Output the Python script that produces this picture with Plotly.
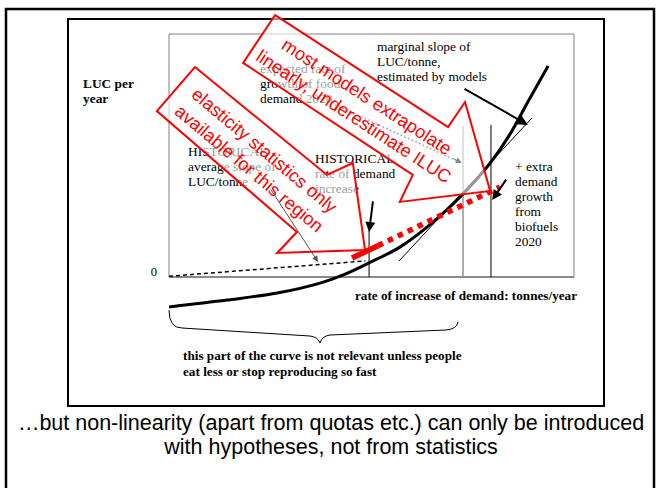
import plotly.graph_objects as go

# ---------------- data (chart units: demand 0..100 along x, LUC 0..100 along y) ----------------
curve_x = [0, 14.3, 26.7, 37.3, 43.5, 49.4, 57.0, 65.2, 72.6, 79.3, 84.2, 88.6, 93.6]
curve_y = [-12.3, -9.5, -6.6, -2.5, 1.2, 5.8, 12.3, 22.6, 34.2, 46.9, 58.8, 72.0, 86.8]

hist_x = [0, 20, 40, 48.5]
hist_y = [0.3, 2.9, 5.6, 6.6]

red_solid_x = [45.2, 51.6]
red_solid_y = [7.8, 12.9]
red_dot_x = [51.6, 81.7]
red_dot_y = [12.9, 37.0]

tangent_x = [56.8, 89.6]
tangent_y = [6.6, 65.4]

vline_x = [49.4, 72.6, 79.5]
vline_top = [19.3, 62.1, 62.6]
vline_color = ["black", "#9a9a9a", "black"]
vline_width = [1, 1.6, 1]

# arrows: tail -> head
arrow_tail_x = [72.6, 50.4, 83.5, 24.9]
arrow_tail_y = [77.8, 31.7, 40.7, 36.6]
arrow_head_x = [88.6, 49.4, 79.8, 36.8]
arrow_head_y = [62.6, 18.5, 31.7, 6.2]
arrow_color = ["black", "black", "black", "#555555"]
arrow_width = [2, 2, 2, 1]

gray_arrow_x = [41.0, 72.3]
gray_arrow_y = [70.8, 46.9]

# red callout arrows (polygons)
callout1_x = [6.4, 39.0, 45.4, 48.4, 26.7, 31.6, -3.0]
callout1_y = [86.4, 42.0, 46.9, 11.1, 9.9, 18.5, 68.3]
callout2_x = [26.2, 68.9, 73.1, 79.3, 57.0, 60.2, 18.3]
callout2_y = [107.8, 61.7, 72.0, 35.4, 30.9, 42.0, 88.1]
callout_text = ["elasticity statistics only<br>available for this region",
                "most models extrapolate<br>linearly, underestimate ILUC"]
callout_text_x = [21.7, 47.2]
callout_text_y = [48.2, 70.0]
callout_angle = [40, 33]

# label groups
marginal_lines = ["marginal slope of", "LUC/tonne,", "estimated by models"]
expected_lines = ["expected rate of", "growth of food", "demand 2020"]
hist_slope_lines = ["HISTORICAL", "average slope of", "LUC/tonne"]
hist_rate_lines = ["HISTORICAL", "rate of demand", "increase"]
extra_lines = ["+ extra", "demand", "growth", "from", "biofuels", "2020"]
ylabel_lines = ["LUC per", "year"]
xlabel = "rate of increase of demand: tonnes/year"
brace_lines = ["this part of the curve is not relevant unless people",
               "eat less or stop reproducing so fast"]
bottom_lines = ["\u2026but non-linearity (apart from quotas etc.) can only be introduced",
                "with hypotheses, not from statistics"]

# ---------------- layout geometry ----------------
W, H = 662, 488
BOX_L, BOX_R, BOX_T, BOX_B = 169, 574, 34, 277   # pixel frame of the 0..100 chart box
sx = (BOX_R - BOX_L) / 100.0
sy = (BOX_B - BOX_T) / 100.0
x_range = [-BOX_L / sx, (W - BOX_L) / sx]
y_range = [(BOX_B - H) / sy, BOX_B / sy]

SERIF = "Liberation Serif, Times New Roman, serif"
SANS = "Liberation Sans, Arial, sans-serif"
LINE = 15 / sy  # line step of the serif labels
LBL = 13.4


def text_block(x, y_first, lines, size=LBL, bold=False, pos="middle right",
               color="black", family=SERIF, step=LINE):
    ys = [y_first - i * step for i in range(len(lines))]
    txt = [f"<b>{t}</b>" if bold else t for t in lines]
    fig.add_trace(go.Scatter(x=[x] * len(lines), y=ys, mode="text", text=txt,
                             textposition=pos, hoverinfo="skip", showlegend=False,
                             textfont=dict(family=family, size=size, color=color)))


fig = go.Figure()

bx = lambda p: (p - BOX_L) / sx
by = lambda p: (BOX_B - p) / sy

# chart box (thin gray) and axis
fig.add_shape(type="rect", x0=0, x1=100, y0=0, y1=100, xref="x", yref="y",
              line=dict(color="#808080", width=1), layer="below")
fig.add_shape(type="line", x0=0, x1=100, y0=0, y1=0, xref="x", yref="y",
              line=dict(color="#555555", width=1), layer="below")

# slide frames
fig.add_shape(type="rect", x0=bx(6), x1=bx(654), y0=by(500), y1=by(9), xref="x", yref="y",
              line=dict(color="black", width=2.5), layer="below")
fig.add_shape(type="rect", x0=bx(68), x1=bx(604), y0=by(406), y1=by(19), xref="x", yref="y",
              line=dict(color="black", width=2), layer="below")

# vertical demand markers
for vx, vt, vc, vw in zip(vline_x, vline_top, vline_color, vline_width):
    fig.add_trace(go.Scatter(x=[vx, vx], y=[0, vt], mode="lines", hoverinfo="skip",
                             showlegend=False, line=dict(color=vc, width=vw)))

# tangent (thin)
fig.add_trace(go.Scatter(x=tangent_x, y=tangent_y, mode="lines", hoverinfo="skip",
                         showlegend=False, line=dict(color="black", width=1)))
# historical dashed line
fig.add_trace(go.Scatter(x=hist_x, y=hist_y, mode="lines", hoverinfo="skip",
                         showlegend=False, line=dict(color="black", width=1.5, dash="4px,3px")))
# main curve
fig.add_trace(go.Scatter(x=curve_x, y=curve_y, mode="lines", hoverinfo="skip",
                         showlegend=False, line=dict(color="black", width=3, shape="spline")))
# red linear extrapolation
fig.add_trace(go.Scatter(x=red_solid_x, y=red_solid_y, mode="lines", hoverinfo="skip",
                         showlegend=False, line=dict(color="#ff0000", width=5.5)))
fig.add_trace(go.Scatter(x=red_dot_x, y=red_dot_y, mode="lines", hoverinfo="skip",
                         showlegend=False, line=dict(color="#ff0000", width=5.5, dash="dot")))
# gray dotted arrow shaft
fig.add_trace(go.Scatter(x=gray_arrow_x, y=gray_arrow_y, mode="lines", hoverinfo="skip",
                         showlegend=False, line=dict(color="#333333", width=1.5, dash="2px,2px")))

# brace
brace = (f"M {bx(169)},{by(310)} Q {bx(169)},{by(328)} {bx(182)},{by(328)} "
         f"L {bx(310)},{by(336)} Q {bx(318)},{by(337)} {bx(320)},{by(343)} "
         f"Q {bx(322)},{by(336)} {bx(330)},{by(335)} L {bx(446)},{by(330)} "
         f"Q {bx(457)},{by(329)} {bx(458)},{by(322)}")
fig.add_shape(type="path", path=brace, xref="x", yref="y",
              line=dict(color="black", width=1), layer="below")

# text labels (drawn as traces so the callouts can veil them)
text_block(bx(377), by(48), marginal_lines)
text_block(bx(260), by(70), expected_lines)
text_block(bx(188), by(153), hist_slope_lines)
text_block(bx(315), by(160), hist_rate_lines)
text_block(bx(515), by(168), extra_lines)
text_block(bx(83), by(85), ylabel_lines, bold=True)
text_block(bx(157), by(273), ["0"], size=12.5, pos="middle left")
text_block(bx(466), by(297), [xlabel], size=13.2, bold=True, pos="middle center")
text_block(bx(183), by(357), brace_lines, size=13.2, bold=True, step=16 / sy)
text_block(bx(331), by(425), bottom_lines, size=21.5, pos="middle center",
           family=SANS, step=24 / sy)

# red callout arrows (semi-transparent white fill veils what is beneath)
for cx, cy in [(callout1_x, callout1_y), (callout2_x, callout2_y)]:
    path = "M " + " L ".join(f"{a},{b}" for a, b in zip(cx, cy)) + " Z"
    fig.add_shape(type="path", path=path, xref="x", yref="y", layer="above",
                  fillcolor="rgba(255,255,255,0.6)",
                  line=dict(color="#ff0000", width=2))

for t, tx, ty, ang in zip(callout_text, callout_text_x, callout_text_y, callout_angle):
    fig.add_annotation(x=tx, y=ty, xref="x", yref="y", text=t, showarrow=False,
                       textangle=ang, font=dict(family=SANS, size=18.2, color="#ff0000"))

# arrows
for tx, ty, hx, hy, c, w in zip(arrow_tail_x, arrow_tail_y, arrow_head_x, arrow_head_y,
                                arrow_color, arrow_width):
    fig.add_annotation(x=hx, y=hy, ax=tx, ay=ty, xref="x", yref="y", axref="x", ayref="y",
                       text="", showarrow=True, arrowhead=2, arrowsize=1.2 if w < 2 else 1,
                       arrowwidth=w, arrowcolor=c, standoff=0)
fig.add_annotation(x=gray_arrow_x[1], y=gray_arrow_y[1],
                   ax=gray_arrow_x[1] - 2.5, ay=gray_arrow_y[1] + 2.2,
                   xref="x", yref="y", axref="x", ayref="y", text="", showarrow=True,
                   arrowhead=2, arrowsize=1.2, arrowwidth=1, arrowcolor="#888888", standoff=0)

fig.update_layout(
    width=W, height=H, margin=dict(l=0, r=0, t=0, b=0),
    paper_bgcolor="white", plot_bgcolor="white", showlegend=False,
    xaxis=dict(range=x_range, visible=False, fixedrange=True),
    yaxis=dict(range=y_range, visible=False, fixedrange=True),
)

# remove the default 8px page margin so the figure sits at the window origin
fig.write_html("out.html", config={"displayModeBar": False},
               post_script="document.body.style.margin='0';")
